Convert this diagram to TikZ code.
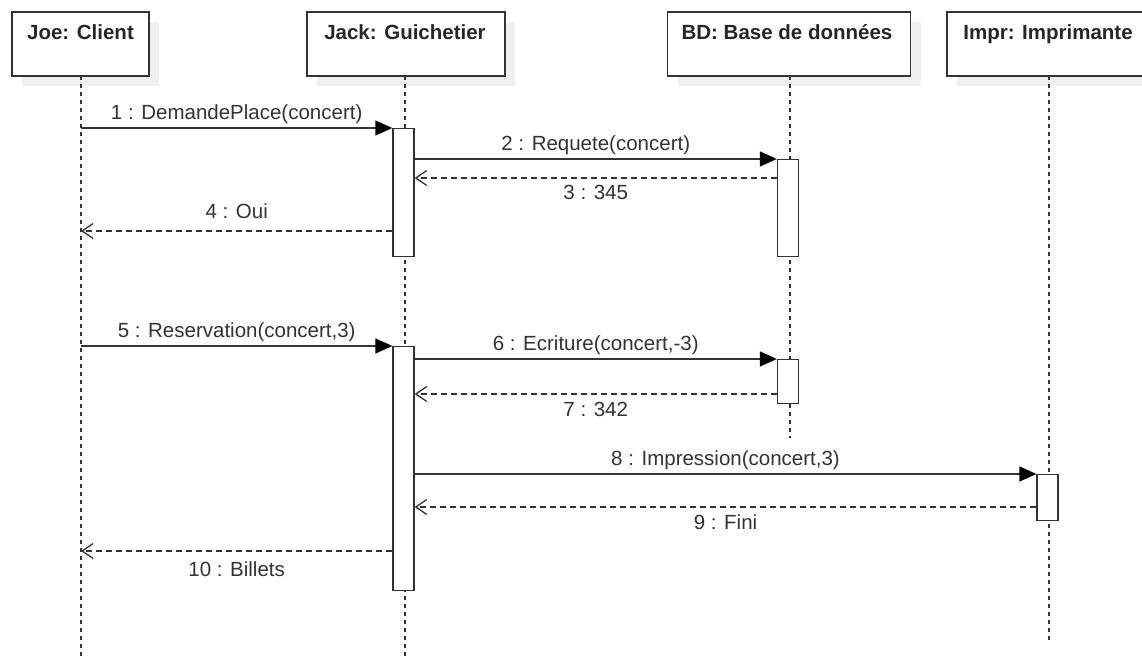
\documentclass[tikz,border=0pt]{standalone}
\usepackage{fontspec}
\setmainfont{Liberation Sans}
\usetikzlibrary{arrows.meta,shadows}
\definecolor{ink}{HTML}{333333}
\definecolor{shade}{HTML}{EFEFEF}
\tikzset{
  hdr/.style={draw=ink, line width=1.3pt, fill=white, minimum height=64pt, inner sep=0pt,
    drop shadow={shadow xshift=10pt, shadow yshift=-10pt, fill=shade, opacity=1}},
  hdrtxt/.style={anchor=base, font=\fontsize{20.5}{24}\selectfont\bfseries, text=black!85, inner sep=0pt},
  life/.style={draw=ink, line width=1.5pt, dash pattern=on 4pt off 4pt},
  actbar/.style={draw=ink, line width=1.3pt, fill=white, minimum width=21pt, inner sep=0pt, anchor=north},
  msg/.style={draw=ink, line width=1.3pt, -{Triangle[length=17pt,width=15pt,fill=black,color=black]}},
  ret/.style={draw=ink, line width=1.3pt, dash pattern=on 6pt off 4pt, -{Straight Barb[length=11pt,width=15pt]}},
  lab/.style={font=\fontsize{20.5}{24}\selectfont, text=ink, inner sep=0pt, anchor=base},
}
\begin{document}
\begin{tikzpicture}[x=1pt,y=-1pt]
\clip (0,0) rectangle (1142,660);
\fill[white] (0,0) rectangle (1142,660);
% header boxes
\node[hdr, minimum width=137pt] (joe) at (80.5,44) {};
\node[hdr, minimum width=198pt] (jack) at (406,44) {};
\node[hdr, minimum width=243pt] (bd) at (789,44) {};
\node[hdr, minimum width=204pt] (impr) at (1049,44) {};
\node[hdrtxt] (joeT) at (80.5,40) {Joe: Client};
\node[hdrtxt] (jackT) at (405,40) {Jack: Guichetier};
\node[hdrtxt] (bdT) at (787,40) {BD: Base de données};
\node[hdrtxt] (imprT) at (1048,40) {Impr: Imprimante};
% lifeline ends
\coordinate (joeE) at (81,660);
\coordinate (jackE) at (405,660);
\coordinate (bdE) at (790,438);
\coordinate (imprE) at (1049,640);
\draw[life] (81,76) -- (joeE);
\draw[life] (405,76) -- (jackE);
\draw[life] (790,76) -- (bdE);
\draw[life] (1049,76) -- (imprE);
% activation bars
\node[actbar, minimum height=128pt] (a1) at (403.5,128) {};
\node[actbar, minimum height=97pt] (b1) at (788,159) {};
\node[actbar, minimum height=244pt] (a2) at (403.5,346) {};
\node[actbar, minimum height=44pt] (b2) at (788,359) {};
\node[actbar, minimum height=46pt] (p1) at (1047.5,474) {};
% message anchors on lifelines
\coordinate (m1s) at (81,128);
\coordinate (m3y) at (0,178);
\coordinate (m4y) at (0,231);
\coordinate (m4e) at (81,231);
\coordinate (m5s) at (81,346);
\coordinate (m7y) at (0,394);
\coordinate (m9y) at (0,507);
\coordinate (m10y) at (0,551);
\coordinate (m10e) at (81,551);
% messages
\draw[msg] (m1s) -- (a1.north west) node[lab, midway, yshift=8pt] {1 : DemandePlace(concert)};
\draw[msg] (a1.east |- b1.north) -- (b1.north west) node[lab, midway, yshift=8pt] {2 : Requete(concert)};
\draw[ret] (b1.west |- m3y) -- (a1.east |- m3y) node[lab, midway, yshift=-22pt] {3 : 345};
\draw[ret] (a1.west |- m4y) -- (m4e) node[lab, midway, yshift=12pt] {4 : Oui};
\draw[msg] (m5s) -- (a2.north west) node[lab, midway, yshift=9pt] {5 : Reservation(concert,3)};
\draw[msg] (a2.east |- b2.north) -- (b2.north west) node[lab, midway, yshift=9pt] {6 : Ecriture(concert,-3)};
\draw[ret] (b2.west |- m7y) -- (a2.east |- m7y) node[lab, midway, yshift=-22pt] {7 : 342};
\draw[msg] (a2.east |- p1.north) -- (p1.north west) node[lab, midway, yshift=9pt] {8 : Impression(concert,3)};
\draw[ret] (p1.west |- m9y) -- (a2.east |- m9y) node[lab, midway, yshift=-22pt] {9 : Fini};
\draw[ret] (a2.west |- m10y) -- (m10e) node[lab, midway, yshift=-25pt] {10 : Billets};
\end{tikzpicture}
\end{document}
